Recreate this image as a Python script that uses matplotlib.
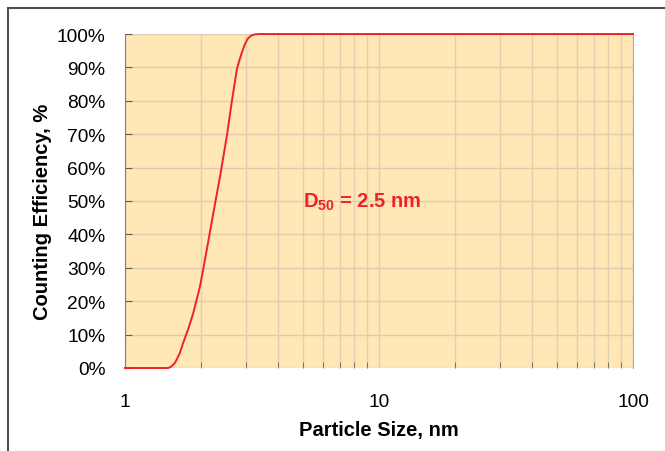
import matplotlib.pyplot as plt
import matplotlib.ticker as mticker
from matplotlib.lines import Line2D

plt.rcParams['font.family'] = ['Liberation Sans', 'DejaVu Sans']
plt.rcParams['mathtext.fontset'] = 'custom'
plt.rcParams['mathtext.rm'] = 'Liberation Sans'
plt.rcParams['mathtext.bf'] = 'Liberation Sans:bold'

# particle size (nm) and counting efficiency (%)
size_nm = [1.0, 1.48, 1.52, 1.575, 1.64, 1.698, 1.78, 1.859, 1.976, 2.101,
           2.230, 2.370, 2.519, 2.636, 2.758, 2.83, 2.886, 2.96, 3.037,
           3.12, 3.208, 3.35, 100.0]
efficiency = [0.0, 0.0, 0.4, 1.6, 4.3, 7.7, 12.0, 16.6, 24.6, 35.6,
              46.6, 57.6, 69.6, 80.0, 89.5, 92.5, 94.5, 96.8, 98.5,
              99.4, 99.8, 100.0, 100.0]
y_ticks = [0, 10, 20, 30, 40, 50, 60, 70, 80, 90, 100]
x_ticks = [1, 10, 100]

fig = plt.figure(figsize=(6.65, 4.52), dpi=100)
ax = fig.add_axes([125 / 665, 1 - 369 / 452, 508 / 665, 334 / 452])
ax.set_facecolor('#FFE7B6')

ax.plot(size_nm, efficiency, color='#EE2228', lw=1.4, zorder=3,
        clip_on=False)

ax.set_xscale('log')
ax.set_xlim(1, 100)
ax.set_ylim(0, 100)

ax.set_xticks(x_ticks)
ax.xaxis.set_major_formatter(mticker.FuncFormatter(lambda v, p: '%g' % v))
ax.xaxis.set_minor_locator(mticker.LogLocator(base=10, subs=range(2, 10)))
ax.xaxis.set_minor_formatter(mticker.NullFormatter())
ax.set_yticks(y_ticks)
ax.set_yticklabels(['%d%%' % v for v in y_ticks])

ax.grid(True, which='both', axis='x', color='#E0D1B4', lw=1.0)
ax.grid(True, which='major', axis='y', color='#DDCDAE', lw=1.0)
ax.set_axisbelow(True)

ax.tick_params(axis='y', direction='in', length=5, color='#606060',
               labelsize=13.8, pad=14)
ax.tick_params(axis='x', which='major', direction='in', length=0,
               labelsize=13.8, pad=18)
ax.tick_params(axis='x', which='minor', direction='in', length=4,
               color='#606060')

for s in ['top', 'bottom']:
    ax.spines[s].set_visible(False)
ax.spines['left'].set_color('#808080')
ax.spines['right'].set_color('#B8A88A')

ax.set_xlabel('Particle Size, nm', fontsize=14.5, fontweight='bold',
              labelpad=7)
ax.set_ylabel('Counting Efficiency, %', fontsize=14.5, fontweight='bold')
ax.yaxis.set_label_coords(-0.144, 0.47)

ax.text(5.0, 50, r'D$_{\mathbf{50}}$ = 2.5 nm', color='#EE2228',
        fontsize=14.5, fontweight='bold', ha='left', va='center')

# outer frame (left and top)
fig.add_artist(Line2D([8 / 665, 8 / 665], [0, 1 - 9 / 452],
                      transform=fig.transFigure, color='#505050', lw=1.5))
fig.add_artist(Line2D([8 / 665, 1], [1 - 9 / 452, 1 - 9 / 452],
                      transform=fig.transFigure, color='#505050', lw=1.5))

fig.savefig('out.png', dpi=100)
